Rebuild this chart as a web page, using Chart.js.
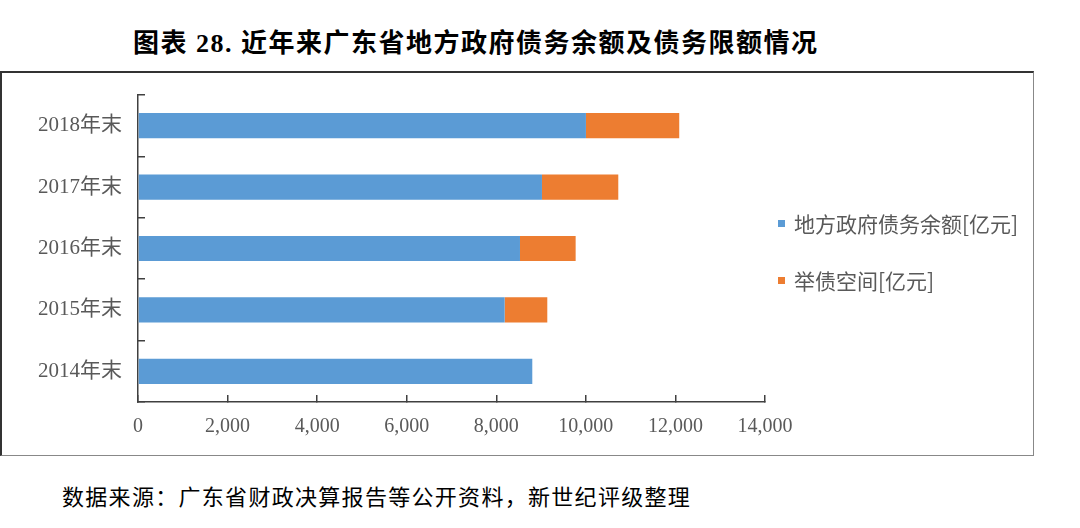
<!DOCTYPE html>
<html>
<head>
<meta charset="utf-8">
<script src="https://cdn.jsdelivr.net/npm/chart.js@4"></script>
<style>
  html, body { margin: 0; padding: 0; background: #fff; }
  body { width: 1080px; height: 528px; position: relative; overflow: hidden; }
  #title {
    position: absolute; left: 133px; top: 22px; white-space: nowrap; letter-spacing: 1.5px;
    font: bold 26px "Liberation Serif", "Noto Sans CJK SC", serif; color: #000;
  }
  #frame {
    position: absolute; left: 0; top: 71px; width: 1031px; height: 382px;
    border-top: 2px solid #333; border-left: 2px solid #333;
    border-right: 1px solid #888; border-bottom: 1px solid #888;
  }
  #wrap { position: absolute; left: 0; top: 80px; width: 1030px; height: 370px; }
  #legend { position: absolute; left: 778px; top: 0; font: 21px "Noto Sans CJK SC", sans-serif; color: #595959; }
  .item { position: absolute; white-space: nowrap; display: flex; align-items: center; height: 30px; }
  .item i { display: inline-block; width: 7px; height: 7px; margin-right: 9px; }
  #source {
    position: absolute; left: 62px; top: 479px; white-space: nowrap; letter-spacing: 1.3px;
    font: 22px "Noto Sans CJK SC", sans-serif; color: #000;
  }
</style>
</head>
<body>
<div id="title">图表 28. 近年来广东省地方政府债务余额及债务限额情况</div>
<div id="frame"></div>
<div id="wrap"><canvas id="chart"></canvas></div>
<div id="legend"></div>
<div id="source">数据来源：广东省财政决算报告等公开资料，新世纪评级整理</div>
<script>
// categories, top to bottom
const years = ['2018年末', '2017年末', '2016年末', '2015年末', '2014年末'];
const debtBalance = [10002, 9020, 8529, 8187, 8804];   // 地方政府债务余额
const debtRoom = [2083, 1704, 1243, 952, 0];           // 举债空间
const xTicks = [0, 2000, 4000, 6000, 8000, 10000, 12000, 14000];

const seriesNames = ['地方政府债务余额[亿元]', '举债空间[亿元]'];
const seriesColors = ['#5B9BD5', '#ED7D31'];

const tickFont = { family: '"Liberation Serif", "Noto Sans CJK SC", serif', size: 20 };

const chart = new Chart(document.getElementById('chart'), {
  type: 'bar',
  data: {
    labels: years,
    datasets: [
      { label: seriesNames[0], data: debtBalance, backgroundColor: seriesColors[0] },
      { label: seriesNames[1], data: debtRoom, backgroundColor: seriesColors[1] }
    ]
  },
  options: {
    indexAxis: 'y',
    responsive: true,
    maintainAspectRatio: false,
    animation: false,
    layout: { padding: { top: 15, right: 265, left: 0, bottom: 0 } },
    datasets: { bar: { barPercentage: 0.41, categoryPercentage: 1 } },
    plugins: { legend: { display: false }, tooltip: { enabled: false } },
    scales: {
      x: {
        stacked: true, min: 0, max: 14000,
        afterBuildTicks: s => { s.ticks = xTicks.map(v => ({ value: v })); },
        afterFit: s => { s.height = 48; },
        border: { color: '#404040', width: 1.5 },
        grid: { drawOnChartArea: false, tickLength: -7, color: '#404040', lineWidth: 1.5 },
        ticks: {
          font: { ...tickFont, size: 20 }, color: '#595959', padding: 20,
          callback: v => v.toLocaleString('en-US')
        }
      },
      y: {
        stacked: true,
        afterFit: s => { s.width = 138; s.paddingTop = 0; s.paddingBottom = 0; },
        border: { color: '#404040', width: 1.5 },
        grid: { drawOnChartArea: false, tickLength: -7, color: '#404040', lineWidth: 1.5 },
        ticks: { font: { ...tickFont, size: 21 }, color: '#595959', padding: 23 }
      }
    }
  }
});

// legend built from the datasets
const legend = document.getElementById('legend');
const legendY = [208, 265];
chart.data.datasets.forEach((ds, i) => {
  const el = document.createElement('div');
  el.className = 'item';
  el.style.top = legendY[i] + 'px';
  el.innerHTML = `<i style="background:${ds.backgroundColor}"></i>${ds.label}`;
  legend.appendChild(el);
});
</script>
</body>
</html>
